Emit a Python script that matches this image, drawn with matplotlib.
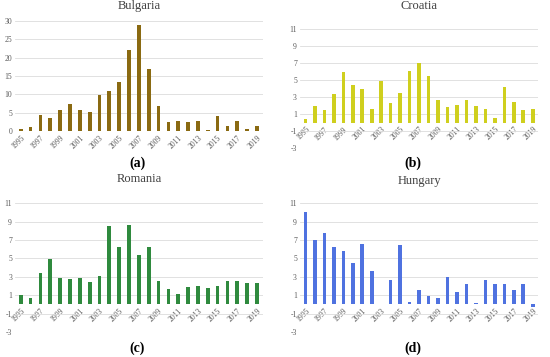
import matplotlib
matplotlib.use("Agg")
import matplotlib.pyplot as plt

plt.rcParams['font.family'] = ['Liberation Serif', 'DejaVu Serif']
plt.rcParams['axes.unicode_minus'] = False

years = list(range(1995, 2020))

bulgaria = [0.5, 1.0, 4.5, 3.5, 5.8, 7.5, 5.6, 5.3, 9.8, 11.0, 13.5, 22.0, 29.0,
            17.0, 6.7, 2.5, 2.7, 2.5, 2.8, 0.3, 4.2, 1.3, 2.6, 0.5, 1.3]
croatia = [0.45, 1.9, 1.5, 3.3, 5.95, 4.4, 3.9, 1.6, 4.9, 2.25, 3.45, 6.05, 7.05,
           5.5, 2.7, 1.8, 2.1, 2.7, 1.9, 1.6, 0.5, 4.2, 2.4, 1.5, 1.55]
romania = [1.05, 0.65, 3.4, 4.9, 2.85, 2.8, 2.85, 2.4, 3.1, 8.5, 6.2, 8.6, 5.35,
           6.2, 2.55, 1.7, 1.15, 1.85, 2.0, 1.75, 2.05, 2.55, 2.55, 2.3, 2.3]
hungary = [10.0, 7.0, 7.8, 6.2, 5.8, 4.45, 6.55, 3.6, 0.07, 2.7, 6.45, 0.25, 1.6,
           0.9, 0.7, 3.0, 1.4, 2.2, 0.15, 2.65, 2.25, 2.25, 1.6, 2.25, -0.3]

# name, data, colour, tag, axes rect, ylim, yticks, tag pos, title y
panels = [
    ("Bulgaria", bulgaria, "#8a6a12", "(a)", [0.027, 0.633, 0.451, 0.308], (0, 30), range(0, 31, 5), (0.25, 0.543), 0.982),
    ("Croatia", croatia, "#cfcf1e", "(b)", [0.545, 0.585, 0.434, 0.334], (-3, 11), range(-3, 12, 2), (0.75, 0.543), 0.982),
    ("Romania", romania, "#2f8a3e", "(c)", [0.027, 0.070, 0.451, 0.361], (-3, 11), range(-3, 12, 2), (0.25, 0.024), 0.498),
    ("Hungary", hungary, "#4f72e0", "(d)", [0.545, 0.070, 0.434, 0.361], (-3, 11), range(-3, 12, 2), (0.75, 0.024), 0.493),
]

fig = plt.figure(figsize=(5.5, 3.57), dpi=100)

for name, vals, color, tag, rect, ylim, yt, tagpos, ty in panels:
    ax = fig.add_axes(rect)
    ax.bar(years, vals, width=0.38, color=color, zorder=3)
    ax.set_xlim(1994.4, 2019.6)
    ax.set_ylim(*ylim)
    ax.set_yticks(list(yt))
    ax.grid(axis='y', color='#dcdcdc', linewidth=0.6, zorder=0)
    for s in ['top', 'right', 'left']:
        ax.spines[s].set_visible(False)
    ax.spines['bottom'].set_position(('data', 0))
    ax.spines['bottom'].set_visible(False)
    ax.set_xticks(years)
    ax.set_xticklabels([str(y) if (y - 1995) % 2 == 0 else '' for y in years],
                       rotation=45, ha='right', rotation_mode='anchor')
    ax.tick_params(axis='both', length=0, labelsize=5.5, labelcolor='#595959', pad=2)
    fig.text(rect[0] + rect[2] / 2, ty, name, fontsize=9, color='#404040',
             ha='center', va='center')
    fig.text(tagpos[0], tagpos[1], tag, fontsize=10, fontweight='bold',
             ha='center', va='center')

fig.savefig("out.png", dpi=100)
